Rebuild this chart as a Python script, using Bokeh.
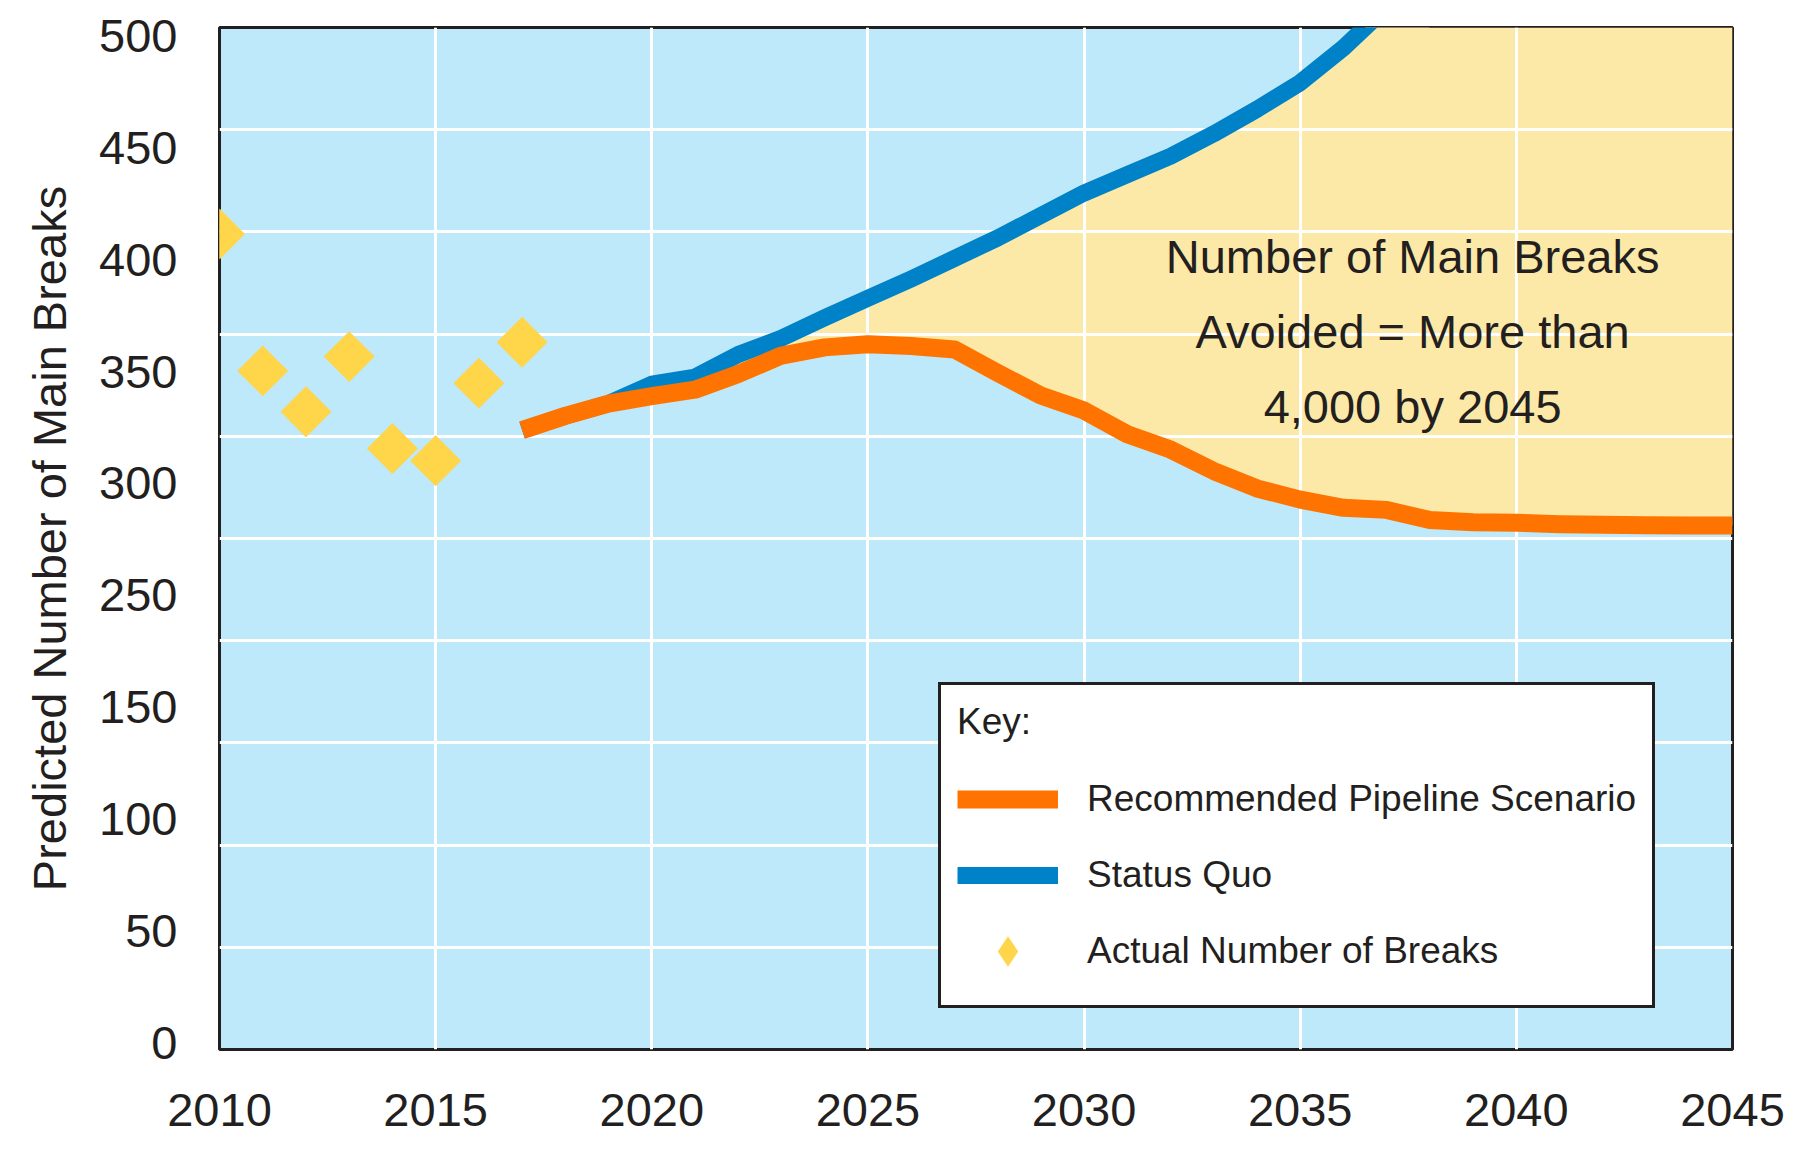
import numpy as np
from bokeh.plotting import figure
from bokeh.models import FixedTicker, Label, Legend, LegendItem, Range1d
from bokeh.embed import file_html
from bokeh.resources import INLINE

# ---------------- data ----------------
years_actual = [2010, 2011, 2012, 2013, 2014, 2015, 2016, 2017]
actual_breaks = [399, 332, 312, 339, 294, 288, 326, 346]

years_recommended = list(range(2017, 2046))
recommended = [303, 310, 316, 319.6, 322.8, 330.5, 339.5, 343.5, 345, 344.2,
               342.5, 331, 320, 312.6, 301, 293.5, 283, 274.5, 269, 265,
               264, 259, 258, 257.7, 257, 256.7, 256.5, 256.4, 256.4]

years_status_quo = list(range(2017, 2038))
status_quo = [303, 310, 316, 325.5, 329, 340, 348, 358, 367.5, 377, 387, 397,
              408, 419, 428, 437, 448, 460, 473, 490, 510]

x_tick_labels = ["2010", "2015", "2020", "2025", "2030", "2035", "2040", "2045"]
y_tick_labels = ["0", "50", "100", "150", "250", "300", "350", "400", "450", "500"]
y_grid_values = [0, 50, 100, 150, 200, 250, 300, 350, 400, 450, 500]

annotation_lines = ["Number of Main Breaks", "Avoided = More than", "4,000 by 2045"]

# ---------------- styling ----------------
FONT = "Liberation Sans"
TXT = "#231F20"
BG = "#BEE9FA"
FILL = "#FDE9A7"
ORANGE = "#FF7300"
BLUE = "#0082C8"
YELLOW = "#FFD54A"

X0, X1 = 2010, 2045
Y0, Y1 = 0, 500

p = figure(frame_width=1513, frame_height=1022,
           min_border_left=219, min_border_right=61,
           min_border_top=27, min_border_bottom=92,
           x_range=Range1d(X0, X1), y_range=Range1d(Y0, Y1),
           output_backend="svg", toolbar_location=None)

p.background_fill_color = BG
p.border_fill_color = "white"
p.outline_line_color = TXT
p.outline_line_width = 3

# avoided area: between recommended and status quo (or chart top once status quo leaves the chart)
upper = [status_quo[years_status_quo.index(y)] if y in years_status_quo else Y1
         for y in years_recommended]
p.varea(x=years_recommended, y1=recommended, y2=upper, fill_color=FILL, level="image")

r_blue = p.line(years_status_quo, status_quo, line_color=BLUE, line_width=17,
                line_join="round")
r_orange = p.line(years_recommended, recommended, line_color=ORANGE, line_width=18,
                  line_join="round")
# diamond-shaped key marker (hidden under the rotated squares in the plot)
r_diam_key = p.scatter(years_actual, actual_breaks, marker="diamond", size=50,
                       fill_color=YELLOW, line_color=None)
r_diam = p.scatter(years_actual, actual_breaks, marker="square", size=36,
                   angle=np.pi / 4, fill_color=YELLOW, line_color=None)

# grid
p.xgrid.ticker = FixedTicker(ticks=[int(t) for t in x_tick_labels])
p.ygrid.ticker = FixedTicker(ticks=y_grid_values)
for g in (p.xgrid, p.ygrid):
    g.grid_line_color = "white"
    g.grid_line_width = 3
    g.grid_line_alpha = 1

# axes
p.xaxis.ticker = FixedTicker(ticks=[int(t) for t in x_tick_labels])
label_pos = [round(v, 3) for v in np.linspace(3.3, 495.9, len(y_tick_labels))]
p.yaxis.ticker = FixedTicker(ticks=label_pos)
p.yaxis.major_label_overrides = {v: t for v, t in zip(label_pos, y_tick_labels)}

for ax in (p.xaxis[0], p.yaxis[0]):
    ax.axis_line_color = None
    ax.major_tick_line_color = None
    ax.minor_tick_line_color = None
    ax.major_label_text_font = FONT
    ax.major_label_text_font_size = "47px"
    ax.major_label_text_color = TXT

p.xaxis.major_label_standoff = 38
p.yaxis.major_label_standoff = 36
p.yaxis.axis_label = "Predicted Number of Main Breaks"
p.yaxis.axis_label_text_font = FONT
p.yaxis.axis_label_text_font_size = "47px"
p.yaxis.axis_label_text_font_style = "normal"
p.yaxis.axis_label_text_color = TXT
p.yaxis.axis_label_standoff = 20

# annotation text
for txt, yy in zip(annotation_lines, [388.0, 351.3, 314.6]):
    p.add_layout(Label(x=2037.6, y=yy, text=txt, text_align="center",
                       text_baseline="alphabetic", text_font=FONT,
                       text_font_size="47px", text_color=TXT))

# legend
legend = Legend(items=[
    LegendItem(label="Recommended Pipeline Scenario", renderers=[r_orange]),
    LegendItem(label="Status Quo", renderers=[r_blue]),
    LegendItem(label="Actual Number of Breaks", renderers=[r_diam_key]),
], title="Key:", location=(719, 41))
legend.title_text_font = FONT
legend.title_text_font_size = "37px"
legend.title_text_font_style = "normal"
legend.title_text_color = TXT
legend.title_standoff = 18
legend.label_text_font = FONT
legend.label_text_font_size = "37px"
legend.label_text_color = TXT
legend.glyph_width = 101
legend.glyph_height = 76
legend.label_standoff = 29
legend.spacing = -6
legend.padding = 16
legend.margin = 0
legend.border_line_color = TXT
legend.border_line_width = 3
legend.border_line_alpha = 1
legend.background_fill_color = "white"
legend.background_fill_alpha = 1
p.add_layout(legend, "center")

open("out.html", "w").write(file_html(p, INLINE))
